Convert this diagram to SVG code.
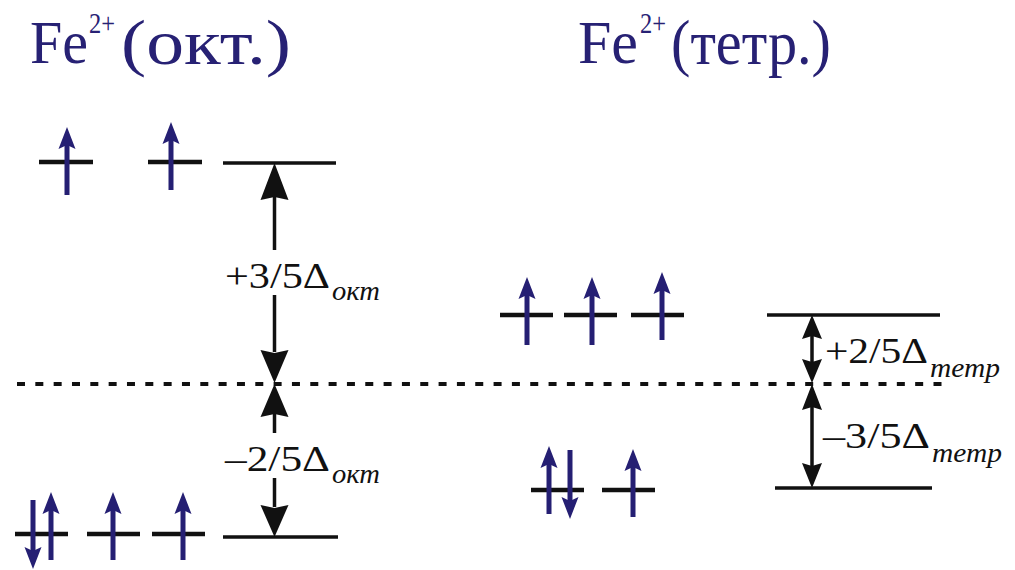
<svg xmlns="http://www.w3.org/2000/svg" xmlns:xlink="http://www.w3.org/1999/xlink" width="1015" height="570" viewBox="0 0 1015 570">
<style>
.title{fill:#272174;}
.lab{fill:#111;font-size:35px;}
.sub{fill:#111;font-size:27px;font-style:italic;}
.orb{stroke:#111;stroke-width:4.5;fill:none;}
.lvl{stroke:#111;stroke-width:3.5;fill:none;}
.shaft{stroke:#111;stroke-width:3.5;fill:none;}
.head{fill:#111;}
.dash{stroke:#111;stroke-width:4;stroke-dasharray:8 10.33;fill:none;}
.eshaft{stroke:#251f73;stroke-width:5;fill:none;}
.ehead{fill:#251f73;}
</style>
<defs>
<g id="eup"><line class="eshaft" x1="0" y1="16" x2="0" y2="68"/><path class="ehead" d="M0,0 L8.5,22 L0,18 L-8.5,22 Z"/></g>
<g id="edn"><line class="eshaft" x1="0" y1="0" x2="0" y2="53"/><path class="ehead" d="M0,69 L8.5,47 L0,51 L-8.5,47 Z"/></g>
</defs>
<rect width="1015" height="570" fill="#fff"/>

<g font-family="Liberation Serif, serif">
<g id="title-oct">
<text class="title" x="30" y="63" font-size="62" textLength="58" lengthAdjust="spacingAndGlyphs">Fe</text>
<text class="title" x="89" y="33" font-size="30" textLength="26" lengthAdjust="spacingAndGlyphs">2+</text>
<text class="title" x="121" y="64" font-size="64" textLength="170" lengthAdjust="spacingAndGlyphs">(окт.)</text>
</g>
<g id="title-tetr">
<text class="title" x="578" y="63" font-size="62" textLength="60" lengthAdjust="spacingAndGlyphs">Fe</text>
<text class="title" x="640" y="33" font-size="30" textLength="26" lengthAdjust="spacingAndGlyphs">2+</text>
<text class="title" x="671" y="64" font-size="64" textLength="160" lengthAdjust="spacingAndGlyphs">(тетр.)</text>
</g>
</g>

<g id="oct-eg">
<line class="orb" x1="39" y1="162" x2="93" y2="162"/>
<line class="orb" x1="148" y1="162" x2="202" y2="162"/>
<use xlink:href="#eup" x="67" y="127"/>
<use xlink:href="#eup" x="171" y="122"/>
</g>
<g id="oct-t2g">
<line class="orb" x1="15" y1="534" x2="68" y2="534"/>
<line class="orb" x1="87" y1="534" x2="140" y2="534"/>
<line class="orb" x1="152" y1="534" x2="205" y2="534"/>
<use xlink:href="#edn" x="33" y="500"/>
<use xlink:href="#eup" x="51" y="492"/>
<use xlink:href="#eup" x="113" y="492"/>
<use xlink:href="#eup" x="183" y="492"/>
</g>
<g id="oct-levels">
<line class="lvl" x1="223" y1="163" x2="336" y2="163"/>
<line class="lvl" x1="223" y1="537" x2="338" y2="537"/>
</g>

<g id="tetr-t2">
<line class="orb" x1="500" y1="315" x2="553" y2="315"/>
<line class="orb" x1="564" y1="315" x2="617" y2="315"/>
<line class="orb" x1="631" y1="315" x2="684" y2="315"/>
<use xlink:href="#eup" x="527" y="277"/>
<use xlink:href="#eup" x="592" y="277"/>
<use xlink:href="#eup" x="662" y="272"/>
</g>
<g id="tetr-e">
<line class="orb" x1="531" y1="490" x2="584" y2="490"/>
<line class="orb" x1="602" y1="490" x2="655" y2="490"/>
<use xlink:href="#eup" x="549" y="446"/>
<use xlink:href="#edn" x="570" y="450"/>
<use xlink:href="#eup" x="633" y="449"/>
</g>
<g id="tetr-levels">
<line class="lvl" x1="767" y1="315" x2="940" y2="315"/>
<line class="lvl" x1="775" y1="488" x2="932" y2="488"/>
</g>

<g id="connectors">
<line id="baseline" class="dash" x1="17" y1="384" x2="942" y2="384"/>
<g id="oct-up">
<path class="head" d="M274.5,163 L288.5,200 L274.5,197 L260.5,200 Z"/>
<line class="shaft" x1="274.5" y1="196" x2="274.5" y2="250"/>
<line class="shaft" x1="274.5" y1="295" x2="274.5" y2="352"/>
<path class="head" d="M274.5,383 L288.5,350 L274.5,353 L260.5,350 Z"/>
</g>
<g id="oct-down">
<path class="head" d="M274.5,384 L288.5,417 L274.5,414 L260.5,417 Z"/>
<line class="shaft" x1="274.5" y1="413" x2="274.5" y2="433"/>
<line class="shaft" x1="274.5" y1="478" x2="274.5" y2="507"/>
<path class="head" d="M274.5,537 L288.5,505 L274.5,508 L260.5,505 Z"/>
</g>
<g id="tetr-up">
<path class="head" d="M812,315 L822,339 L812,336 L802,339 Z"/>
<line class="shaft" x1="812" y1="335" x2="812" y2="363"/>
<path class="head" d="M812,383 L822,359 L812,362 L802,359 Z"/>
</g>
<g id="tetr-down">
<path class="head" d="M812,384 L822,410 L812,407 L802,410 Z"/>
<line class="shaft" x1="812" y1="406" x2="812" y2="466"/>
<path class="head" d="M812,488 L822,463 L812,466 L802,463 Z"/>
</g>
</g>

<g font-family="Liberation Serif, serif">
<g id="label-oct-up">
<text class="lab" x="225" y="288" textLength="105" lengthAdjust="spacingAndGlyphs">+3/5Δ</text>
<text class="sub" x="332" y="300" textLength="48" lengthAdjust="spacingAndGlyphs">окт</text>
</g>
<g id="label-oct-down">
<text class="lab" x="225" y="471" textLength="105" lengthAdjust="spacingAndGlyphs">–2/5Δ</text>
<text class="sub" x="332" y="483" textLength="48" lengthAdjust="spacingAndGlyphs">окт</text>
</g>
<g id="label-tetr-up">
<text class="lab" x="825" y="363" textLength="103" lengthAdjust="spacingAndGlyphs">+2/5Δ</text>
<text class="sub" x="930" y="377" textLength="70" lengthAdjust="spacingAndGlyphs">тетр</text>
</g>
<g id="label-tetr-down">
<text class="lab" x="823" y="448" textLength="107" lengthAdjust="spacingAndGlyphs">–3/5Δ</text>
<text class="sub" x="932" y="462" textLength="70" lengthAdjust="spacingAndGlyphs">тетр</text>
</g>
</g>
</svg>
